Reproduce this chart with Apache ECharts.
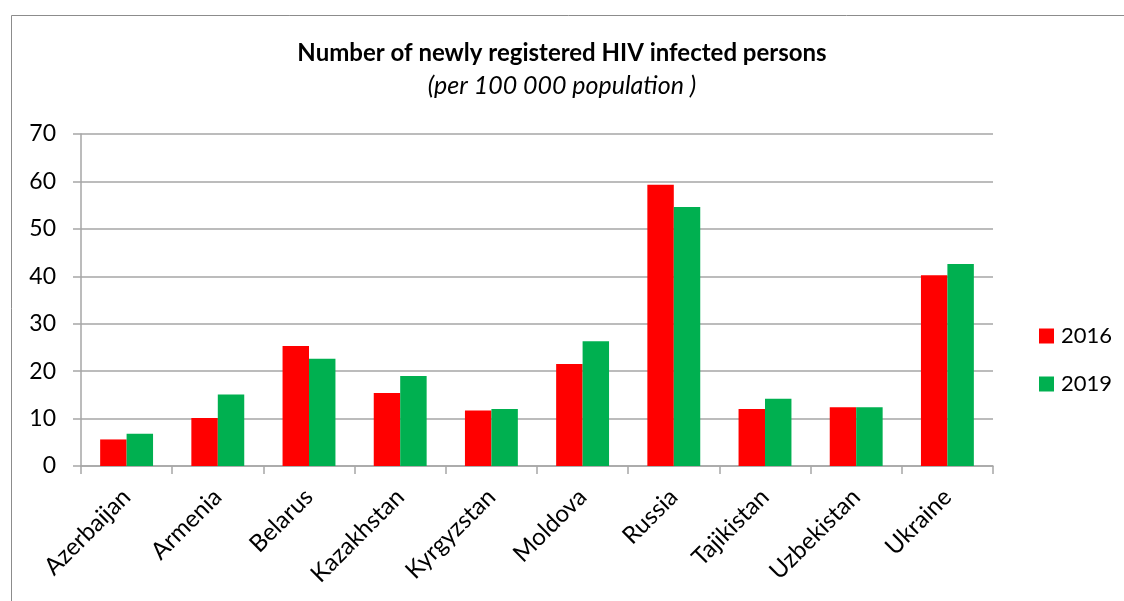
<!DOCTYPE html>
<html><head><meta charset="utf-8">
<script src="https://cdn.jsdelivr.net/npm/echarts@6/dist/echarts.min.js"></script>
<style>html,body{margin:0;padding:0;background:#fff}#c{width:1124px;height:601px}</style>
</head><body><div id="c"></div>
<script>
const categories = ['Azerbaijan','Armenia','Belarus','Kazakhstan','Kyrgyzstan','Moldova','Russia','Tajikistan','Uzbekistan','Ukraine'];
const values2016 = [5.6, 10.1, 25.3, 15.4, 11.7, 21.5, 59.3, 12.0, 12.4, 40.2];
const values2019 = [6.8, 15.1, 22.6, 19.0, 12.0, 26.3, 54.6, 14.2, 12.4, 42.6];
const seriesNames = ['2016','2019'];
const colors = ['#ff0000','#00b050'];
const FONT = 'Lato, "Open Sans", sans-serif';

const chart = echarts.init(document.getElementById('c'));
chart.setOption({
  animation: false,
  backgroundColor: '#fff',
  textStyle: {fontFamily: FONT},
  title: {
    text: 'Number of newly registered HIV infected persons',
    subtext: '(per 100 000 population )',
    left: 'center', top: 36, itemGap: 8,
    textStyle: {fontSize: 24, fontWeight: 'bold', color: '#000', fontFamily: FONT},
    subtextStyle: {fontSize: 25, fontStyle: 'italic', color: '#000', fontFamily: FONT}
  },
  legend: {
    orient: 'vertical', left: 1034, top: 320, itemGap: 26,
    itemWidth: 15, itemHeight: 15, icon: 'rect',
    textStyle: {fontSize: 22, color: '#000', fontFamily: FONT, padding: [0,0,0,2]},
    data: seriesNames
  },
  grid: {left: 81, right: 131, top: 134, bottom: 135, containLabel: false},
  xAxis: {
    type: 'category', data: categories,
    axisLine: {lineStyle: {color: '#a6a6a6', width: 1.5}},
    axisTick: {show: true, length: 8, lineStyle: {color: '#a6a6a6', width: 1.5}},
    axisLabel: {rotate: 45, fontSize: 24, color: '#000', margin: 27, interval: 0, fontFamily: FONT}
  },
  yAxis: {
    type: 'value', min: 0, max: 70, interval: 10,
    axisLine: {show: true, lineStyle: {color: '#a6a6a6', width: 1.5}},
    axisTick: {show: true, length: 8, lineStyle: {color: '#a6a6a6', width: 1.5}},
    splitLine: {lineStyle: {color: '#a6a6a6', width: 1.5}},
    axisLabel: {fontSize: 23, color: '#000', margin: 25, fontFamily: FONT}
  },
  graphic: [{
    type: 'rect', shape: {x: 11.5, y: 15.5, width: 1130, height: 600},
    style: {fill: 'none', stroke: '#8c8c8c', lineWidth: 1}, z: -1
  }],
  series: [
    {name: seriesNames[0], type: 'bar', data: values2016, itemStyle: {color: colors[0]}, barGap: '0%', barCategoryGap: '42%'},
    {name: seriesNames[1], type: 'bar', data: values2019, itemStyle: {color: colors[1]}, barGap: '0%', barCategoryGap: '42%'}
  ]
});
</script></body></html>
